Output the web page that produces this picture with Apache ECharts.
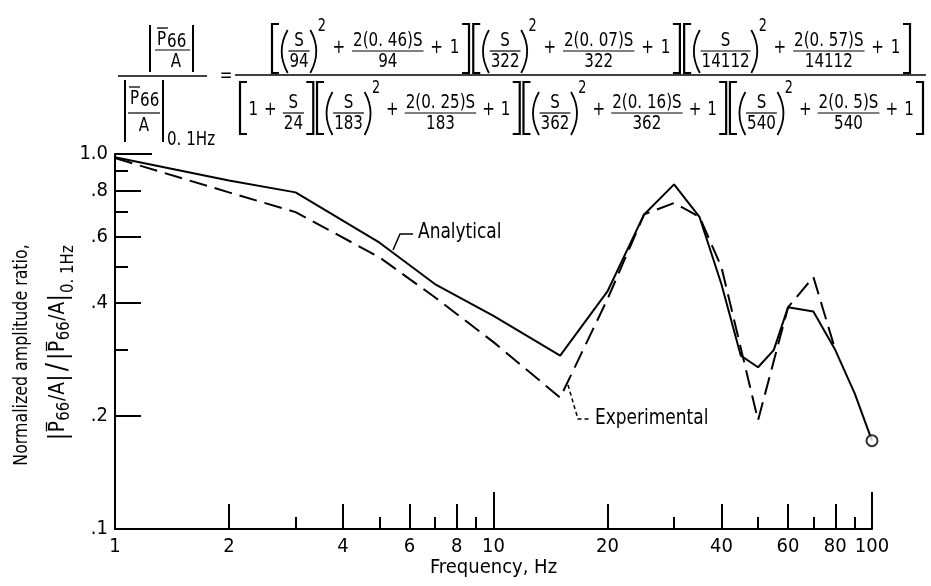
<!DOCTYPE html>
<html><head><meta charset="utf-8">
<script src="https://cdn.jsdelivr.net/npm/echarts@6/dist/echarts.min.js"></script>
<style>html,body{margin:0;padding:0;background:#fff}#chart{width:931px;height:586px}</style>
</head><body><div id="chart"></div>
<script>
// ---------------- data ----------------
const analyticalFreq  = [1, 2, 3, 5, 7, 10, 15, 20, 25, 30, 35, 40, 45, 50, 55, 60, 70, 80, 90, 100];
const analyticalRatio = [0.98, 0.85, 0.79, 0.58, 0.45, 0.37, 0.29, 0.43, 0.69, 0.83, 0.68, 0.45, 0.29, 0.27, 0.30, 0.39, 0.38, 0.30, 0.23, 0.172];
const experimentalFreq  = [1, 2, 3, 5, 7, 10, 15, 20, 25, 30, 35, 40, 50, 60, 70, 80];
const experimentalRatio = [0.975, 0.79, 0.70, 0.53, 0.415, 0.315, 0.224, 0.41, 0.69, 0.74, 0.68, 0.50, 0.195, 0.39, 0.47, 0.30];
const circleFreq  = [100];
const circleRatio = [0.172];

const xLabelValues = [1, 2, 4, 6, 8, 10, 20, 40, 60, 80, 100];
const xDecadeTicks = [10, 100];
const xMajorTicks  = [2, 4, 6, 8, 20, 40, 60, 80];
const xMinorTicks  = [3, 5, 7, 9, 30, 50, 70, 90];
const yLabelValues = [0.1, 0.2, 0.4, 0.6, 0.8, 1.0];
const yLabelTexts  = ['.1', '.2', '.4', '.6', '.8', '1.0'];
const yTopTicks    = [1.0];
const yMajorTicks  = [0.2, 0.4, 0.6, 0.8];
const yMinorTicks  = [0.3, 0.5, 0.7, 0.9];

// ---------------- fonts / helpers ----------------
const FAM = "'DejaVu Sans Condensed', 'DejaVu Sans', sans-serif";
const mctx = document.createElement('canvas').getContext('2d');
function tw(s, size, sx) { mctx.font = size + 'px ' + FAM; return mctx.measureText(s).width * (sx || 1); }
function T(x, y, s, size, align, sx) {
  return {type: 'text', x: x, y: y, scaleX: sx || 1, scaleY: 1, silent: true,
    style: {text: s, fill: '#000', fontSize: size, fontFamily: FAM,
      textAlign: align || 'left', textVerticalAlign: 'middle'}};
}
function L(x1, y1, x2, y2, w) {
  return {type: 'line', silent: true, shape: {x1: x1, y1: y1, x2: x2, y2: y2}, style: {stroke: '#000', lineWidth: w || 1.5}};
}
function PL(pts, w, dash) {
  return {type: 'polyline', silent: true, shape: {points: pts}, style: {stroke: '#000', fill: null, lineWidth: w || 1.5, lineDash: dash || null}};
}
function BZ(x1, y1, cx, cy, x2, y2, w) {
  return {type: 'bezierCurve', silent: true, shape: {x1: x1, y1: y1, x2: x2, y2: y2, cpx1: cx, cpy1: cy}, style: {stroke: '#000', fill: null, lineWidth: w || 1.8}};
}

const G = [];
const FS = 20, SUPFS = 17, SX = 0.84;

// ---------------- equation ----------------
const LB = {k: 'lb'}, RB = {k: 'rb'}, LP = {k: 'lp'}, RP = {k: 'rp'};
const fr = (n, d) => ({k: 'fr', n: n, d: d});
const sup = s => ({k: 'sup', s: s});
const tk = s => ({k: 't', s: s});
function quad(w, z) { return [LB, LP, fr('S', w), RP, sup('2'), tk('+'), fr('2(' + z + ')S', w), tk('+'), tk('1'), RB]; }
const numTokens = [].concat(quad('94', '0. 46'), quad('322', '0. 07'), quad('14112', '0. 57'));
const denTokens = [].concat([LB, tk('1'), tk('+'), fr('S', '24'), RB], quad('183', '0. 25'), quad('362', '0. 16'), quad('540', '0. 5'));

function gapOf(a, b) {
  if (a.k === 'lb') return 1;
  if (b.k === 'rb') return 1.5;
  if (a.k === 'rb' && b.k === 'lb') return 2.5;
  if (a.k === 'lp' || b.k === 'rp') return 0.4;
  if (b.k === 'sup') return 0.2;
  return 4;
}
function layoutRow(tokens, x0, x1, ly, bTop, bBot) {
  const items = tokens.map(t => {
    let w;
    if (t.k === 'lb' || t.k === 'rb') w = 7;
    else if (t.k === 'lp' || t.k === 'rp') w = 7;
    else if (t.k === 'fr') w = Math.max(tw(t.n, FS, SX), tw(t.d, FS, SX)) + 2;
    else if (t.k === 'sup') w = tw(t.s, SUPFS, SX);
    else w = tw(t.s, FS, SX);
    return Object.assign({}, t, {w: w});
  });
  const gaps = items.map((it, i) => i === 0 ? 0 : gapOf(items[i - 1], it));
  const sumW = items.reduce((a, b) => a + b.w, 0);
  const sumG = gaps.reduce((a, b) => a + b, 0);
  const k = (x1 - x0 - sumW) / sumG;
  let x = x0;
  items.forEach((it, i) => {
    x += gaps[i] * k;
    const w = it.w;
    if (it.k === 'lb') G.push(PL([[x + w, bTop], [x, bTop], [x, bBot], [x + w, bBot]], 2.2));
    else if (it.k === 'rb') G.push(PL([[x, bTop], [x + w, bTop], [x + w, bBot], [x, bBot]], 2.2));
    else if (it.k === 'lp') G.push(BZ(x + w, ly - 21, x - w + 2, ly, x + w, ly + 22));
    else if (it.k === 'rp') G.push(BZ(x, ly - 21, x + 2 * w - 2, ly, x, ly + 22));
    else if (it.k === 'fr') {
      const cx = x + w / 2;
      G.push(T(cx, ly - 10, it.n, FS, 'center', SX));
      G.push(L(x, ly, x + w, ly, 1.2));
      G.push(T(cx, ly + 11, it.d, FS, 'center', SX));
    } else if (it.k === 'sup') G.push(T(x, ly - 24, it.s, SUPFS, 'left', SX));
    else G.push(T(x, ly - 3, it.s, FS, 'left', SX));
    x += w;
  });
}
layoutRow(numTokens, 272, 910, 51, 24, 73);
layoutRow(denTokens, 240, 923, 113, 82, 134);
G.push(L(235, 75, 926, 75, 1.5));

// left-hand side
G.push(L(150, 25, 150, 72, 2), L(193, 25, 193, 72, 2));
G.push(T(157, 40, 'P', FS, 'left', SX), L(157, 28, 168, 28, 1.3), T(157 + tw('P', FS, SX) + 1, 42, '66', FS, 'left', SX));
G.push(L(155, 50, 190, 50, 1.2), T(176, 62, 'A', FS, 'center', SX));
G.push(L(118, 76, 207, 76, 1.5));
G.push(L(125, 80, 125, 142, 2), L(163, 80, 163, 142, 2));
G.push(T(130, 99, 'P', FS, 'left', SX), L(129, 87, 140, 87, 1.3), T(130 + tw('P', FS, SX) + 1, 101, '66', FS, 'left', SX));
G.push(L(128, 113, 160, 113, 1.2), T(144, 126, 'A', FS, 'center', SX));
G.push(T(167, 140, '0. 1Hz', FS, 'left', SX));
G.push(T(226, 76, '=', FS, 'center', SX));

// y-axis title (rotated group)
(function () {
  const ch = [];
  ch.push(T(0, 0, 'Normalized amplitude ratio,', 20, 'center', 0.88));
  const LSX = 0.98;
  const seq = [
    {s: '|', size: 25, dy: 0}, {s: 'P', size: 21, dy: 0, over: true}, {s: '66', size: 17, dy: 6},
    {s: '/A', size: 21, dy: 0}, {s: '|', size: 25, dy: 0}, {s: '/', size: 28, dy: 0, g: 3},
    {s: '|', size: 25, dy: 0, g: 3}, {s: 'P', size: 21, dy: 0, over: true}, {s: '66', size: 17, dy: 6},
    {s: '/A', size: 21, dy: 0}, {s: '|', size: 25, dy: 0}, {s: '0. 1Hz', size: 17, dy: 10, g: 1}
  ];
  let total = 0;
  seq.forEach(p => { total += tw(p.s, p.size, LSX) + (p.g || 0.5); });
  let x = 12 - total / 2;
  const yl = 37;
  seq.forEach(p => {
    x += (p.g || 0.5);
    const w = tw(p.s, p.size, LSX);
    ch.push(T(x, yl + p.dy, p.s, p.size, 'left', LSX));
    if (p.over) ch.push(L(x + 1, yl - 12.5, x + w - 1, yl - 12.5, 1.3));
    x += w;
  });
  G.push({type: 'group', x: 22, y: 355, rotation: Math.PI / 2, children: ch});
})();

// annotations
G.push(PL([[393, 250], [400, 234], [413, 234]], 1.5));
G.push(T(418, 233, 'Analytical', 21, 'left', 0.9));
G.push(PL([[568, 385], [578, 419], [591, 419]], 1.5, [4, 3]));
G.push(T(595, 419, 'Experimental', 21, 'left', 0.9));

// ---------------- chart ----------------
const chart = echarts.init(document.getElementById('chart'), null, {renderer: 'canvas'});
const black = '#000';
function xAxisDef(ticks, len, main) {
  return {
    type: 'log', logBase: 10, min: 1, max: 100, position: 'bottom', gridIndex: 0,
    axisLine: {show: main, onZero: false, lineStyle: {color: black, width: 2}},
    axisTick: {show: true, inside: true, length: len, customValues: ticks, lineStyle: {color: black, width: 2}},
    axisLabel: main ? {show: true, customValues: xLabelValues, margin: 8, color: black, fontSize: 20, fontFamily: FAM,
      formatter: v => String(Math.round(v))} : {show: false},
    splitLine: {show: false}, minorTick: {show: false},
    name: main ? 'Frequency, Hz' : '', nameLocation: 'middle', nameGap: 29, nameMoveOverlap: false,
    nameTextStyle: {color: black, fontSize: 20, fontFamily: FAM, verticalAlign: 'top'}
  };
}
function yAxisDef(ticks, len, main) {
  return {
    type: 'log', logBase: 10, min: 0.1, max: 1, position: 'left', gridIndex: 0,
    axisLine: {show: main, onZero: false, lineStyle: {color: black, width: 2}},
    axisTick: {show: true, inside: true, length: len, customValues: ticks, lineStyle: {color: black, width: 2}},
    axisLabel: main ? {show: true, customValues: yLabelValues, margin: 7, color: black, fontSize: 20, fontFamily: FAM,
      formatter: v => {
        let best = 0;
        yLabelValues.forEach((lv, i) => {
          if (Math.abs(Math.log10(lv) - Math.log10(v)) < Math.abs(Math.log10(yLabelValues[best]) - Math.log10(v))) best = i;
        });
        return yLabelTexts[best];
      }} : {show: false},
    splitLine: {show: false}, minorTick: {show: false}
  };
}
const zip = (xs, ys) => xs.map((x, i) => [x, ys[i]]);
chart.setOption({
  animation: false,
  backgroundColor: '#fff',
  grid: {left: 115, right: 59, top: 154, bottom: 57, containLabel: false, outerBoundsMode: 'none'},
  xAxis: [xAxisDef(xDecadeTicks, 37, true), xAxisDef(xMajorTicks, 25, false), xAxisDef(xMinorTicks, 12, false)],
  yAxis: [yAxisDef(yTopTicks, 37, true), yAxisDef(yMajorTicks, 26, false), yAxisDef(yMinorTicks, 13, false)],
  series: [
    {name: 'Analytical', type: 'line', xAxisIndex: 0, yAxisIndex: 0, data: zip(analyticalFreq, analyticalRatio),
      symbol: 'none', lineStyle: {color: black, width: 2, type: 'solid'}, z: 3},
    {name: 'Experimental', type: 'line', xAxisIndex: 0, yAxisIndex: 0, data: zip(experimentalFreq, experimentalRatio),
      symbol: 'none', lineStyle: {color: black, width: 2, type: [18, 8]}, z: 3},
    {name: 'Point', type: 'scatter', xAxisIndex: 0, yAxisIndex: 0, data: zip(circleFreq, circleRatio),
      symbol: 'circle', symbolSize: 11, itemStyle: {color: '#fff', borderColor: black, borderWidth: 2}, z: 4}
  ],
  graphic: {elements: G}
});
</script></body></html>
